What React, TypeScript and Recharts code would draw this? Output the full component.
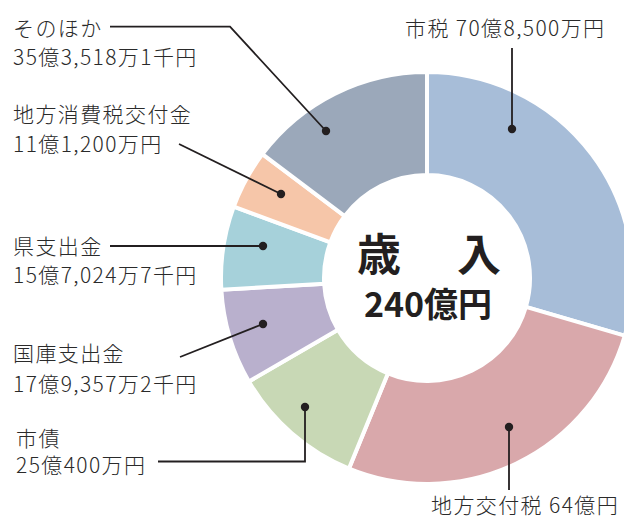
import { PieChart, Pie, Cell } from "recharts";

const categories = [
  "市税",
  "地方交付税",
  "市債",
  "国庫支出金",
  "県支出金",
  "地方消費税交付金",
  "そのほか",
];

// 単位: 億円
const amounts = [70.85, 64, 25.04, 17.9357, 15.70247, 11.12, 35.3518];

const amountLabels = [
  "70億8,500万円",
  "64億円",
  "25億400万円",
  "17億9,357万2千円",
  "15億7,024万7千円",
  "11億1,200万円",
  "35億3,518万1千円",
];

const totalLabel = "240億円";

const colors = ["#a7bdd8", "#d9a8ab", "#c8d8b5", "#b9b0cd", "#a6d1da", "#f6c6a9", "#9ba8ba"];

const chartData = categories.map((name, i) => ({ name, value: amounts[i] }));

// leader lines and text placement, relative to the pie centre
type Pt = [number, number];
const labelLayout: Array<{ path: Pt[]; lines: Array<{ x: number; y: number }> }> = [
  { path: [[85, -149], [85, -230]], lines: [{ x: -22, y: -251 }] },
  { path: [[82, 149], [82, 212]], lines: [{ x: 4, y: 226 }] },
  { path: [[-122, 129], [-122, 183.5], [-269, 183.5]], lines: [{ x: -411, y: 159 }, { x: -411, y: 186 }] },
  { path: [[-164, 46], [-247, 79]], lines: [{ x: -414, y: 74 }, { x: -414, y: 104.5 }] },
  { path: [[-164, -32], [-317, -32]], lines: [{ x: -414, y: -33 }, { x: -414, y: -4 }] },
  { path: [[-146, -84], [-248, -134]], lines: [{ x: -414, y: -165.5 }, { x: -414, y: -135.5 }] },
  { path: [[-101, -147], [-197, -251.3], [-317, -251.3]], lines: [{ x: -414, y: -251.3 }, { x: -414, y: -222 }] },
];

const textFont = "'Noto Sans CJK JP', 'Noto Sans', sans-serif";

function renderLabel(props: any) {
  const { cx, cy, index } = props;
  const layout = labelLayout[index];
  const texts =
    layout.lines.length === 1
      ? [`${categories[index]} ${amountLabels[index]}`]
      : [categories[index], amountLabels[index]];
  const d = layout.path
    .map((p, i) => `${i === 0 ? "M" : "L"}${cx + p[0]},${cy + p[1]}`)
    .join(" ");
  const dot = layout.path[0];
  return (
    <g>
      <path d={d} stroke="#231f20" strokeWidth={1.8} fill="none" />
      <circle cx={cx + dot[0]} cy={cy + dot[1]} r={4.2} fill="#231f20" />
      {layout.lines.map((ln, i) => (
        <text
          key={i}
          x={cx + ln.x}
          y={cy + ln.y}
          dominantBaseline="central"
          fontSize={21}
          fontWeight={300}
          letterSpacing={1.4}
          fontFamily={textFont}
          fill="#2a2a2a"
        >
          {texts[i]}
        </text>
      ))}
      {index === 0 && (
        <g fontFamily={textFont} fontWeight={700} fill="#231f20" textAnchor="middle">
          <text x={cx - 48} y={cy - 26} dominantBaseline="central" fontSize={44}>
            歳
          </text>
          <text x={cx + 52} y={cy - 26} dominantBaseline="central" fontSize={44}>
            入
          </text>
          <text x={cx + 1} y={cy + 24} dominantBaseline="central" fontSize={34}>
            {totalLabel}
          </text>
        </g>
      )}
    </g>
  );
}

export default function App() {
  return (
    <div style={{ position: "absolute", left: 0, top: 0, width: 624, height: 518, background: "#fff" }}>
      <PieChart width={624} height={518} margin={{ top: 0, right: 0, bottom: 0, left: 0 }}>
        <Pie
          data={chartData}
          dataKey="value"
          nameKey="name"
          cx={427}
          cy={278}
          innerRadius={103}
          outerRadius={206}
          startAngle={90}
          endAngle={-270}
          stroke="#ffffff"
          strokeWidth={4}
          label={renderLabel}
          labelLine={false}
          isAnimationActive={false}
        >
          {chartData.map((entry, i) => (
            <Cell key={entry.name} fill={colors[i]} />
          ))}
        </Pie>
      </PieChart>
    </div>
  );
}
